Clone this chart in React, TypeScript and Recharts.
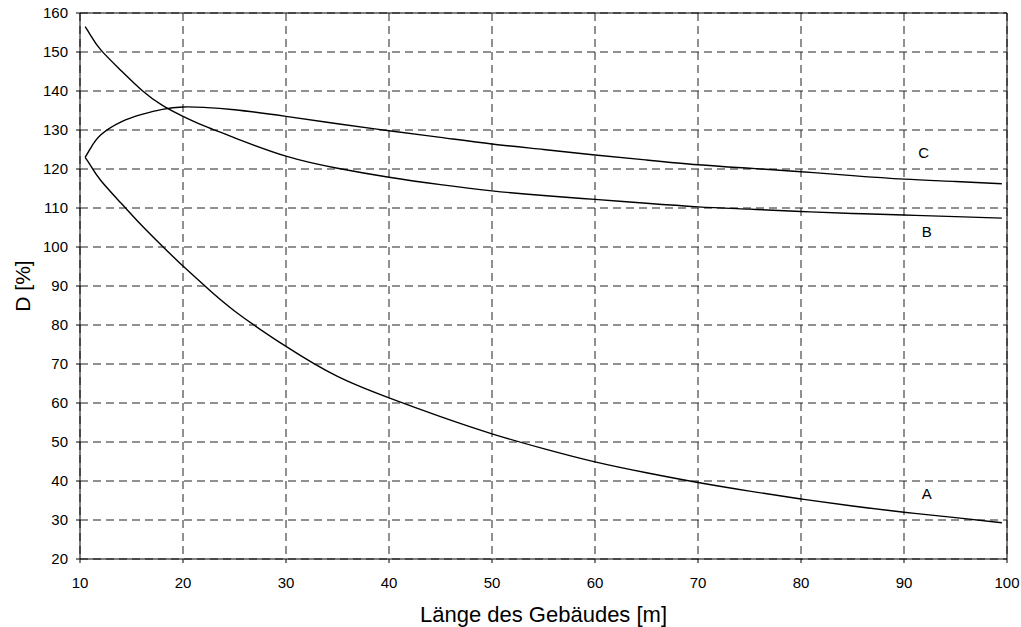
import React from 'react';
import { LineChart, Line, XAxis, YAxis, CartesianGrid, ReferenceLine, ReferenceDot } from 'recharts';

// Länge des Gebäudes [m]
const lengths = [10.5, 11, 12, 14, 16, 18, 20, 22, 25, 30, 35, 40, 45, 50, 55, 60, 65, 70, 75, 80, 85, 90, 95, 99.5];

// D [%] for the three curves
const seriesA = [123, 121, 117.1, 111.2, 105.5, 100.2, 95.1, 90.3, 83.6, 74.5, 66.8, 61.3, 56.5, 52.1, 48.3, 44.9, 42.1, 39.6, 37.4, 35.4, 33.6, 32, 30.6, 29.3];
const seriesB = [156.5, 154.4, 150.6, 145.2, 140.2, 136.3, 133.5, 131.1, 128, 123.3, 120.2, 117.9, 116, 114.4, 113.2, 112.2, 111.2, 110.3, 109.7, 109.1, 108.6, 108.2, 107.8, 107.4];
const seriesC = [123, 125.2, 128.7, 132.1, 134.0, 135.3, 135.9, 135.8, 135.2, 133.5, 131.6, 129.8, 128.1, 126.4, 125, 123.6, 122.3, 121.1, 120.2, 119.3, 118.3, 117.4, 116.8, 116.2];

const xTicks = [10, 20, 30, 40, 50, 60, 70, 80, 90, 100];
const yTicks = [20, 30, 40, 50, 60, 70, 80, 90, 100, 110, 120, 130, 140, 150, 160];

const curveLabels = [
  { name: 'A', x: 92.2, y: 36.7 },
  { name: 'B', x: 92.2, y: 103.9 },
  { name: 'C', x: 91.9, y: 124.1 },
];

const FONT = '"Liberation Sans", Arial, sans-serif';

const data = lengths.map((x, i) => ({ x, a: seriesA[i], b: seriesB[i], c: seriesC[i] }));

const App: React.FC = () => {
  const tickStyle = { fontSize: 15, fill: '#000', fontFamily: FONT };
  return (
    <div style={{ position: 'absolute', left: 0, top: 0 }}>
      <LineChart width={1021} height={627} data={data} margin={{ top: 13, right: 14, bottom: 0, left: 0 }}>
        <CartesianGrid stroke="#222" strokeDasharray="8 5" />
        <XAxis
          dataKey="x"
          type="number"
          domain={[10, 100]}
          ticks={xTicks}
          height={68}
          tickSize={4}
          tickMargin={14}
          tick={tickStyle}
          stroke="#000"
          tickLine={{ stroke: '#000' }}
          label={{ value: 'Länge des Gebäudes [m]', position: 'insideBottom', offset: 5, style: { fontSize: 22, fill: '#000', fontFamily: FONT } }}
        />
        <YAxis
          type="number"
          domain={[20, 160]}
          ticks={yTicks}
          width={80}
          tickSize={4}
          tickMargin={8}
          tick={tickStyle}
          stroke="#000"
          tickLine={{ stroke: '#000' }}
          label={{ value: 'D [%]', angle: -90, position: 'insideLeft', offset: 23, style: { fontSize: 21, fill: '#000', fontFamily: FONT, textAnchor: 'middle' } }}
        />
        <ReferenceLine y={160} stroke="#000" />
        <ReferenceLine x={100} stroke="#000" />
        <Line dataKey="a" type="natural" stroke="#000" strokeWidth={1.4} dot={false} isAnimationActive={false} />
        <Line dataKey="b" type="natural" stroke="#000" strokeWidth={1.4} dot={false} isAnimationActive={false} />
        <Line dataKey="c" type="natural" stroke="#000" strokeWidth={1.4} dot={false} isAnimationActive={false} />
        {curveLabels.map(l => (
          <ReferenceDot
            key={l.name}
            x={l.x}
            y={l.y}
            r={0}
            stroke="none"
            fill="none"
            label={{ value: l.name, position: 'center', style: { fontSize: 15, fill: '#000', fontFamily: FONT } }}
          />
        ))}
      </LineChart>
    </div>
  );
};

export default App;
